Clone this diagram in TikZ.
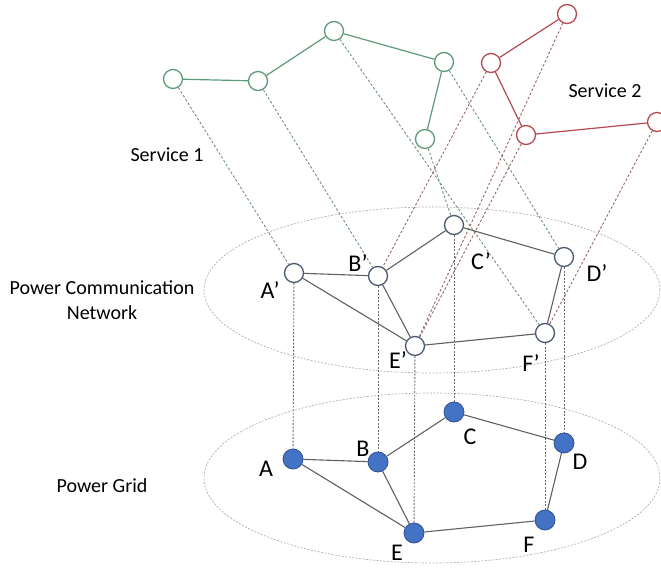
\documentclass[tikz,border=0pt]{standalone}
\usepackage{fontspec}
\setmainfont{Carlito}
\definecolor{gcol}{HTML}{5E9A78}
\definecolor{gdash}{HTML}{6F8F80}
\definecolor{rcol}{HTML}{B24A50}
\definecolor{rdash}{HTML}{9A6666}
\definecolor{ncol}{HTML}{4A5870}
\definecolor{bfill}{HTML}{4472C4}
\definecolor{bdark}{HTML}{2F528F}
\definecolor{ecol}{HTML}{606060}
\definecolor{elcol}{HTML}{B0B0B0}
\definecolor{vcol}{HTML}{6A6A6A}
\pgfdeclarelayer{bg}
\pgfsetlayers{bg,main}
\begin{document}
\begin{tikzpicture}[x=1pt,y=-1pt,
  svcg/.style={circle,draw=gcol,line width=1.3pt,fill=white,minimum size=19pt,inner sep=0pt},
  svcr/.style={circle,draw=rcol,line width=1.3pt,fill=white,minimum size=19pt,inner sep=0pt},
  pcnode/.style={circle,draw=ncol,line width=1.3pt,fill=white,minimum size=19pt,inner sep=0pt},
  pgnode/.style={circle,draw=bdark,fill=bfill,line width=0.8pt,minimum size=20pt,inner sep=0pt},
  gedge/.style={draw=gcol,line width=1.2pt},
  redge/.style={draw=rcol,line width=1.2pt},
  nedge/.style={draw=ecol,line width=1.1pt},
  gmap/.style={draw=gdash,line width=0.9pt,dash pattern=on 2.5pt off 2pt},
  rmap/.style={draw=rdash,line width=0.9pt,dash pattern=on 2.5pt off 2pt},
  vmap/.style={draw=vcol,line width=0.9pt,dash pattern=on 2pt off 1.5pt},
  layerell/.style={draw=elcol,line width=0.7pt,dash pattern=on 2pt off 1.5pt},
  txt/.style={font=\fontsize{20}{25}\selectfont,text=black,inner sep=0pt},
  letter/.style={font=\fontsize{24}{28}\selectfont,text=black,inner sep=0pt}]
\useasboundingbox (0,0) rectangle (661,569);

% layer ellipses
\begin{pgfonlayer}{bg}
\draw[layerell] (432,290) ellipse [x radius=228pt, y radius=83pt];
\draw[layerell] (432,478) ellipse [x radius=228pt, y radius=85pt];
\end{pgfonlayer}

% service 1
\node[svcg] (g1) at (173,79) {};
\node[svcg] (g2) at (258,81) {};
\node[svcg] (g3) at (334,31) {};
\node[svcg] (g4) at (444,62) {};
\node[svcg] (g5) at (425,139) {};
% service 2
\node[svcr] (r1) at (567,14) {};
\node[svcr] (r2) at (491,63) {};
\node[svcr] (r3) at (526,135) {};
\node[svcr] (r4) at (657,122) {};

% power communication network
\node[pcnode] (a2) at (294,273) {};
\node[pcnode] (b2) at (378,276) {};
\node[pcnode] (c2) at (454,225) {};
\node[pcnode] (d2) at (564,257) {};
\node[pcnode] (e2) at (415,346) {};
\node[pcnode] (f2) at (545,333) {};

% power grid
\node[pgnode] (a1) at (293,459) {};
\node[pgnode] (b1) at (378,462) {};
\node[pgnode] (c1) at (454,412) {};
\node[pgnode] (d1) at (564,443) {};
\node[pgnode] (e1) at (414,533) {};
\node[pgnode] (f1) at (545,520) {};

\begin{pgfonlayer}{bg}
% service edges
\draw[gedge] (g1) -- (g2) -- (g3) -- (g4) -- (g5);
\draw[redge] (r1) -- (r2) -- (r3) -- (r4);
% mapping lines
\draw[gmap] (g1) -- (a2);
\draw[gmap] (g2) -- (b2);
\draw[gmap] (g3) -- (f2);
\draw[gmap] (g4) -- (d2);
\draw[gmap] (g5) -- (c2);
\draw[rmap] (r1) -- (e2);
\draw[rmap] (r2) -- (b2);
\draw[rmap] (r3) -- (e2);
\draw[rmap] (r4) -- (f2);
% vertical mapping
\draw[vmap] (a2) -- (a1);
\draw[vmap] (b2) -- (b1);
\draw[vmap] (c2) -- (c1);
\draw[vmap] (d2) -- (d1);
\draw[vmap] (e2) -- (e1);
\draw[vmap] (f2) -- (f1);
% network edges
\draw[nedge] (a2) -- (b2) -- (c2) -- (d2) -- (f2) -- (e2) -- (a2);
\draw[nedge] (b2) -- (e2);
\draw[nedge] (a1) -- (b1) -- (c1) -- (d1) -- (f1) -- (e1) -- (a1);
\draw[nedge] (b1) -- (e1);
\end{pgfonlayer}

% texts
\node[txt] (s1) at (167,155) {Service 1};
\node[txt] (s2) at (605,91) {Service 2};
\node[txt,align=center] (tpcn) at (102,300) {Power Communication\\Network};
\node[txt] (tpg) at (102,486) {Power Grid};

\node[letter] (la2) at (270,290) {A’};
\node[letter] (lb2) at (358,263) {B’};
\node[letter] (lc2) at (481,261) {C’};
\node[letter] (ld2) at (597,273) {D’};
\node[letter] (le2) at (398,360) {E’};
\node[letter] (lf2) at (531,363) {F’};

\node[letter] (la1) at (266,469) {A};
\node[letter] (lb1) at (363,449) {B};
\node[letter] (lc1) at (470,437) {C};
\node[letter] (ld1) at (580,462) {D};
\node[letter] (le1) at (397,553) {E};
\node[letter] (lf1) at (529,545) {F};
\end{tikzpicture}
\end{document}
